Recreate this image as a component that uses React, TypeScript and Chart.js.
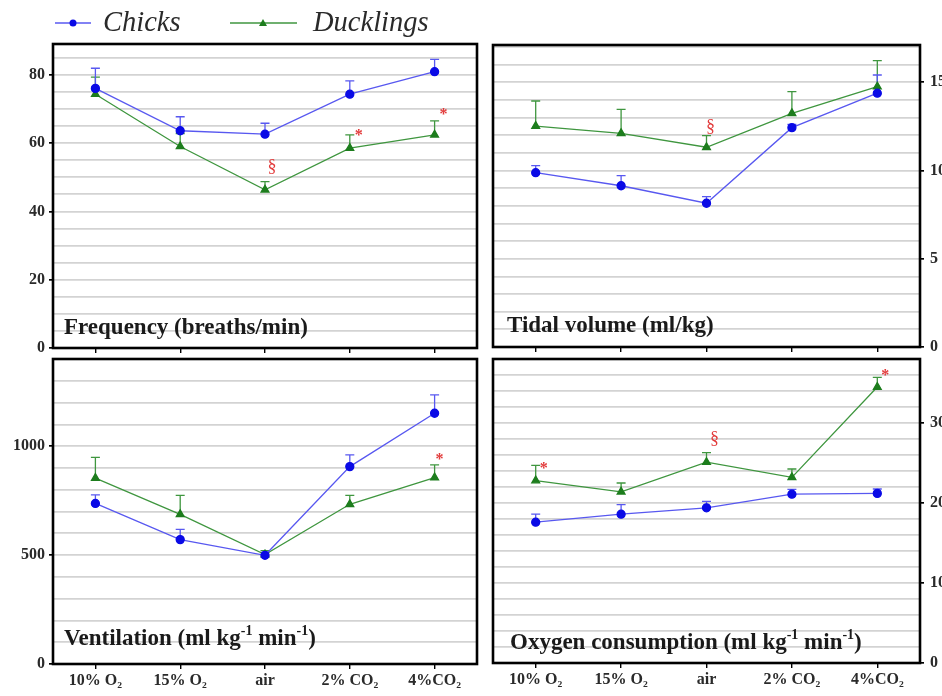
import React, { useEffect, useRef } from "react";
import { Chart, registerables } from "chart.js";
Chart.register(...registerables);

const categories = ["10% O₂", "15% O₂", "air", "2% CO₂", "4%CO₂"];
const seriesNames = ["Chicks", "Ducklings"];

// Frequency (breaths/min)
const freqChicks = [76.0, 63.6, 62.6, 74.3, 80.9];
const freqChicksUpper = [81.9, 67.7, 65.8, 78.2, 84.5];
const freqDucklings = [74.3, 59.0, 46.3, 58.5, 62.4];
const freqDucklingsUpper = [79.3, 62.8, 48.7, 62.4, 66.5];

// Tidal volume (ml/kg)
const tidalChicks = [9.87, 9.13, 8.14, 12.42, 14.37];
const tidalChicksUpper = [10.27, 9.7, 8.51, 12.6, 15.4];
const tidalDucklings = [12.51, 12.1, 11.31, 13.23, 14.74];
const tidalDucklingsUpper = [13.93, 13.46, 11.97, 14.46, 16.21];

// Ventilation (ml kg-1 min-1)
const ventChicks = [737, 571, 499, 906, 1151];
const ventChicksUpper = [776, 618, 512, 960, 1235];
const ventDucklings = [853, 687, 502, 733, 856];
const ventDucklingsUpper = [948, 774, 520, 774, 914];

// Oxygen consumption (ml kg-1 min-1)
const o2Chicks = [17.6, 18.6, 19.4, 21.1, 21.2];
const o2ChicksUpper = [18.6, 19.8, 20.2, 21.7, 21.75];
const o2Ducklings = [22.8, 21.4, 25.1, 23.2, 34.5];
const o2DucklingsUpper = [24.7, 22.5, 26.3, 24.25, 35.7];

// significance marks: [category index, value, symbol]
const freqMarks: [number, number, string][] = [[2, 53, "§"], [3, 63, "*"], [4, 69, "*"]];
const tidalMarks: [number, number, string][] = [[2, 12.47, "§"]];
const ventMarks: [number, number, string][] = [[4, 952, "*"]];
const o2Marks: [number, number, string][] = [[0, 24.7, "*"], [2, 28, "§"], [4, 36.3, "*"]];

const BLUE = "#0a0ae6";
const BLUE_LINE = "#5858f0";
const GREEN = "#1d7d1d";
const GREEN_LINE = "#3f963f";
const RED = "#e23a3a";
const SERIF = '"Liberation Serif", "Times New Roman", serif';

type Part = { t: string; sup?: boolean };

function isMultiple(v: number, step: number) {
  const r = v / step;
  return Math.abs(r - Math.round(r)) < 1e-6;
}

function drawRich(ctx: CanvasRenderingContext2D, parts: Part[], x: number, y: number, size: number) {
  let cx = x;
  ctx.textBaseline = "middle";
  ctx.textAlign = "left";
  for (const p of parts) {
    if (p.sup) {
      ctx.font = `bold ${Math.round(size * 0.6)}px ${SERIF}`;
      ctx.fillText(p.t, cx, y - size * 0.35);
    } else {
      ctx.font = `bold ${size}px ${SERIF}`;
      ctx.fillText(p.t, cx, y);
    }
    cx += ctx.measureText(p.t).width;
  }
}

type Panel = {
  chicks: number[];
  chicksUpper: number[];
  ducks: number[];
  ducksUpper: number[];
  marks: [number, number, string][];
  markDx: number[];
  max: number;
  step: number;
  labelStep: number;
  yPos: "left" | "right";
  yW: number;
  xH: number;
  showX: boolean;
  padding: { left: number; right: number; top: number; bottom: number };
  title: Part[];
  titleX: number;
  titleY: number;
  legend?: boolean;
};

function makeChart(canvas: HTMLCanvasElement, p: Panel) {
  const decor = {
    id: "decor",
    beforeDatasetsDraw(chart: any) {
      const ctx = chart.ctx as CanvasRenderingContext2D;
      const xs = chart.scales.x;
      const ys = chart.scales.y;
      const sets: [number[], number[], string][] = [
        [p.ducks, p.ducksUpper, GREEN_LINE],
        [p.chicks, p.chicksUpper, BLUE_LINE],
      ];
      ctx.save();
      for (const [vals, ups, col] of sets) {
        ctx.strokeStyle = col;
        ctx.lineWidth = 1.3;
        vals.forEach((v, i) => {
          const x = xs.getPixelForValue(i);
          const y0 = ys.getPixelForValue(v);
          const y1 = ys.getPixelForValue(ups[i]);
          ctx.beginPath();
          ctx.moveTo(x, y0);
          ctx.lineTo(x, y1);
          ctx.moveTo(x - 4.5, y1);
          ctx.lineTo(x + 4.5, y1);
          ctx.stroke();
        });
      }
      ctx.restore();
    },
    afterDraw(chart: any) {
      const ctx = chart.ctx as CanvasRenderingContext2D;
      const a = chart.chartArea;
      const xs = chart.scales.x;
      const ys = chart.scales.y;
      ctx.save();
      ctx.strokeStyle = "#000";
      ctx.lineWidth = 2.6;
      ctx.strokeRect(a.left, a.top, a.right - a.left, a.bottom - a.top);
      // significance marks
      ctx.fillStyle = RED;
      ctx.textAlign = "center";
      ctx.textBaseline = "middle";
      p.marks.forEach(([i, v, s], k) => {
        ctx.font = s === "§" ? `18px ${SERIF}` : `bold 16px ${SERIF}`;
        ctx.fillText(s, xs.getPixelForValue(i) + p.markDx[k], ys.getPixelForValue(v) + (s === "*" ? 3 : 0));
      });
      // title
      ctx.fillStyle = "#1a1a1a";
      drawRich(ctx, p.title, p.titleX, p.titleY, 23);
      // legend
      if (p.legend) {
        const items: [string, string, string, number, number, number, number][] = [
          [seriesNames[0], BLUE_LINE, BLUE, 55, 91, 73, 103],
          [seriesNames[1], GREEN_LINE, GREEN, 230, 297, 263, 313],
        ];
        items.forEach(([name, lc, pc, x0, x1, mx, tx], idx) => {
          const y = 23;
          ctx.strokeStyle = lc;
          ctx.lineWidth = 1.4;
          ctx.beginPath();
          ctx.moveTo(x0, y);
          ctx.lineTo(x1, y);
          ctx.stroke();
          ctx.fillStyle = pc;
          ctx.beginPath();
          if (idx === 0) {
            ctx.arc(mx, y, 3.5, 0, Math.PI * 2);
          } else {
            ctx.moveTo(mx, y - 4);
            ctx.lineTo(mx + 4, y + 3);
            ctx.lineTo(mx - 4, y + 3);
            ctx.closePath();
          }
          ctx.fill();
          ctx.fillStyle = "#2a2a2a";
          ctx.font = `italic 28.5px ${SERIF}`;
          ctx.textAlign = "left";
          ctx.textBaseline = "middle";
          ctx.fillText(name, tx, y + 1);
        });
      }
      ctx.restore();
    },
  };

  return new Chart(canvas, {
    type: "line",
    data: {
      labels: categories,
      datasets: [
        {
          label: seriesNames[0],
          data: p.chicks,
          borderColor: BLUE_LINE,
          backgroundColor: BLUE,
          pointBackgroundColor: BLUE,
          pointBorderColor: BLUE,
          pointStyle: "circle",
          pointRadius: 4,
          borderWidth: 1.3,
          tension: 0,
        },
        {
          label: seriesNames[1],
          data: p.ducks,
          borderColor: GREEN_LINE,
          backgroundColor: GREEN,
          pointBackgroundColor: GREEN,
          pointBorderColor: GREEN,
          pointStyle: "triangle",
          pointRadius: 4.5,
          borderWidth: 1.3,
          tension: 0,
        },
      ],
    },
    options: {
      animation: false,
      responsive: false,
      maintainAspectRatio: false,
      events: [],
      layout: { padding: p.padding },
      plugins: { legend: { display: false }, tooltip: { enabled: false } },
      scales: {
        x: {
          type: "category",
          offset: true,
          grid: {
            offset: false,
            drawOnChartArea: false,
            drawTicks: true,
            tickLength: 5,
            color: "#000",
            lineWidth: 1.4,
          },
          border: { display: false },
          ticks: {
            display: p.showX,
            autoSkip: false,
            maxRotation: 0,
            padding: 2,
            color: "#2a2a2a",
            font: { family: SERIF, size: 16, weight: "bold" },
          },
          afterFit: (s: any) => {
            s.height = p.xH;
          },
        },
        y: {
          position: p.yPos,
          min: 0,
          max: p.max,
          grid: {
            color: "#d3d3d3",
            lineWidth: 1.7,
            drawTicks: true,
            tickLength: 4,
            tickColor: (c: any) => (c.tick && isMultiple(c.tick.value, p.labelStep) ? "#000" : "rgba(0,0,0,0)"),
          },
          border: { display: false },
          ticks: {
            stepSize: p.step,
            maxTicksLimit: 100,
            autoSkip: false,
            includeBounds: false,
            padding: p.yPos === "left" ? 4 : 6,
            color: "#2a2a2a",
            font: { family: SERIF, size: 16, weight: "bold" },
            callback: (v: any) => (isMultiple(v, p.labelStep) ? String(Math.round(v)) : ""),
          },
          afterFit: (s: any) => {
            s.width = p.yW;
          },
        },
      },
    },
    plugins: [decor],
  } as any);
}

const panels: Panel[] = [
  {
    chicks: freqChicks, chicksUpper: freqChicksUpper, ducks: freqDucklings, ducksUpper: freqDucklingsUpper,
    marks: freqMarks, markDx: [7, 9, 9],
    max: 89, step: 5, labelStep: 20, yPos: "left", yW: 40, xH: 8, showX: false,
    padding: { left: 13, right: 465, top: 44, bottom: 340 },
    title: [{ t: "Frequency (breaths/min)" }], titleX: 64, titleY: 328, legend: true,
  },
  {
    chicks: tidalChicks, chicksUpper: tidalChicksUpper, ducks: tidalDucklings, ducksUpper: tidalDucklingsUpper,
    marks: tidalMarks, markDx: [4],
    max: 17.1, step: 1, labelStep: 5, yPos: "right", yW: 22, xH: 8, showX: false,
    padding: { left: 493, right: 0, top: 45, bottom: 341 },
    title: [{ t: "Tidal volume (ml/kg)" }], titleX: 507, titleY: 326,
  },
  {
    chicks: ventChicks, chicksUpper: ventChicksUpper, ducks: ventDucklings, ducksUpper: ventDucklingsUpper,
    marks: ventMarks, markDx: [5],
    max: 1400, step: 100, labelStep: 500, yPos: "left", yW: 40, xH: 32, showX: true,
    padding: { left: 13, right: 465, top: 359, bottom: 0 },
    title: [{ t: "Ventilation (ml kg" }, { t: "-1", sup: true }, { t: " min" }, { t: "-1", sup: true }, { t: ")" }],
    titleX: 64, titleY: 639,
  },
  {
    chicks: o2Chicks, chicksUpper: o2ChicksUpper, ducks: o2Ducklings, ducksUpper: o2DucklingsUpper,
    marks: o2Marks, markDx: [8, 8, 8],
    max: 38, step: 2, labelStep: 10, yPos: "right", yW: 22, xH: 32, showX: true,
    padding: { left: 493, right: 0, top: 359, bottom: 1 },
    title: [{ t: "Oxygen consumption (ml kg" }, { t: "-1", sup: true }, { t: " min" }, { t: "-1", sup: true }, { t: ")" }],
    titleX: 510, titleY: 643,
  },
];

export default function App() {
  const refs = [useRef<HTMLCanvasElement>(null), useRef<HTMLCanvasElement>(null), useRef<HTMLCanvasElement>(null), useRef<HTMLCanvasElement>(null)];
  useEffect(() => {
    const charts = panels.map((p, i) => makeChart(refs[i].current as HTMLCanvasElement, p));
    return () => charts.forEach((c) => c.destroy());
  }, []);
  return (
    <div style={{ position: "fixed", left: 0, top: 0, width: 942, height: 696, overflow: "hidden", background: "#fff" }}>
      {refs.map((r, i) => (
        <canvas
          key={i}
          ref={r}
          width={942}
          height={696}
          style={{ position: "absolute", left: 0, top: 0, width: 942, height: 696 }}
        />
      ))}
    </div>
  );
}
